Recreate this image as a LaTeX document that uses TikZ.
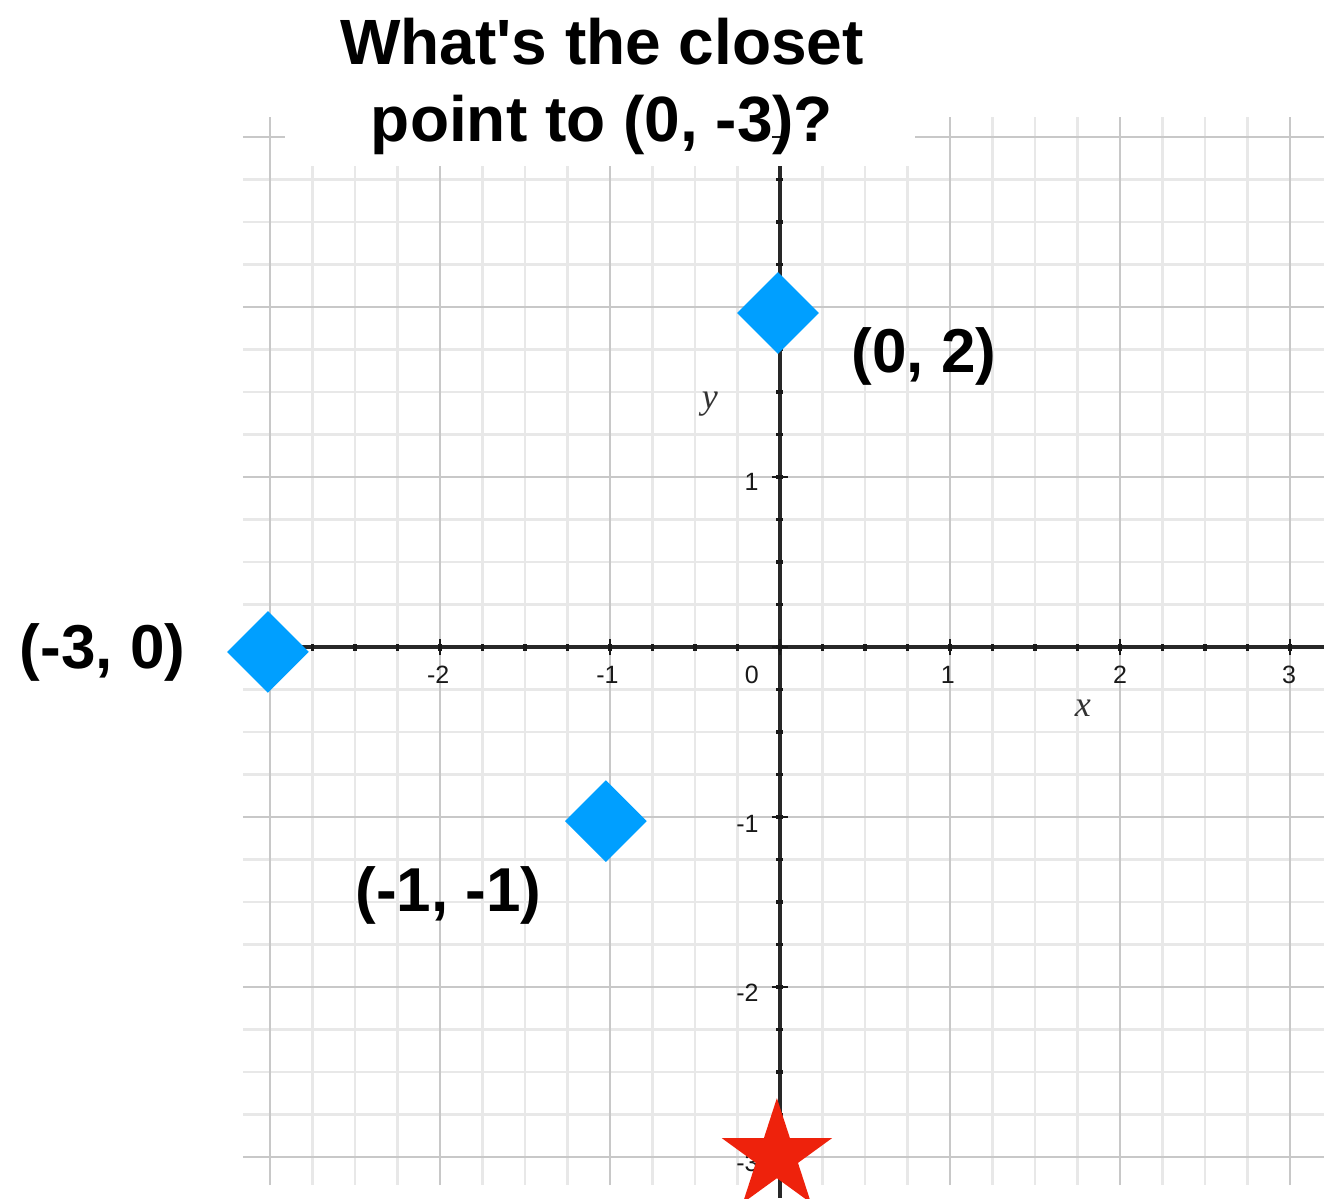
\documentclass[tikz,border=0pt]{standalone}
\usepackage{fontspec}
\setmainfont{Liberation Sans}[Ligatures=TeXOff]
\newfontfamily\axisserif{Liberation Serif}
\usetikzlibrary{shapes.geometric}
\definecolor{gridminor}{RGB}{232,232,232}
\definecolor{gridmajor}{RGB}{200,200,200}
\definecolor{axiscol}{RGB}{40,40,40}
\definecolor{ptblue}{RGB}{0,159,255}
\definecolor{starred}{RGB}{238,34,12}
\tikzset{
  minorgrid/.style={draw=gridminor, line width=1.2pt},
  majorgrid/.style={draw=gridmajor, line width=1.4pt},
  axisline/.style={draw=axiscol, line width=2pt},
  minortick/.style={draw=black!90, line width=1.6pt},
  majortick/.style={draw=black!90, line width=1.2pt},
  ticklabel/.style={font=\fontsize{12.5}{14}\selectfont, text=black!90, inner sep=0pt},
  axislabel/.style={font=\axisserif\itshape\fontsize{18}{20}\selectfont, text=black!80, inner sep=0pt},
  ptlabel/.style={font=\bfseries\fontsize{31}{36}\selectfont, inner sep=0pt},
  titlestyle/.style={font=\bfseries\fontsize{32}{38}\selectfont, inner sep=0pt, anchor=base},
  ptmark/.style={diamond, fill=ptblue, minimum width=41pt, minimum height=41pt, inner sep=0pt},
  targetmark/.style={star, star points=5, star point ratio=2.618, minimum size=58pt, fill=starred, inner sep=0pt}
}
\begin{document}
\begin{tikzpicture}[x=85pt,y=85pt]
\useasboundingbox (-4.588,-3.241) rectangle (3.2,3.806);
% grid
\foreach \i in {-12,...,12} {
  \draw[minorgrid] (\i/4,-3.165) -- (\i/4,3.118);
  \draw[minorgrid] (-3.159,\i/4) -- (3.2,\i/4);
}
\foreach \i in {-3,...,3} {
  \draw[majorgrid] (\i,-3.165) -- (\i,3.118);
  \draw[majorgrid] (-3.159,\i) -- (3.2,\i);
}
% white area behind the title
\fill[white] (-2.912,2.829) rectangle (0.794,3.9);
% axes
\draw[axisline] (-3.159,0) -- (3.2,0);
\draw[axisline] (0,2.829) -- (0,-3.241);
% ticks
\foreach \i in {-12,...,12} {
  \draw[minortick] (\i/4,-0.0206) -- (\i/4,0.0206);
}
\foreach \i in {-12,...,11} {
  \draw[minortick] (-0.0206,\i/4) -- (0.0206,\i/4);
}
\foreach \i in {-3,...,3} {
  \draw[majortick] (\i,-0.047) -- (\i,0.047);
  \draw[majortick] (-0.047,\i) -- (0.047,\i);
}
% tick labels
\node[ticklabel] (xlm2) at (-2.01,-0.165) {-2};
\node[ticklabel] (xlm1) at (-1.015,-0.165) {-1};
\node[ticklabel] (xl0) at (-0.165,-0.165) {0};
\node[ticklabel] (xl1) at (0.988,-0.165) {1};
\node[ticklabel] (xl2) at (2.0,-0.165) {2};
\node[ticklabel] (xl3) at (2.994,-0.165) {3};
\node[ticklabel, anchor=east] (yl1) at (-0.124,0.97) {1};
\node[ticklabel, anchor=east] (ylm1) at (-0.124,-1.04) {-1};
\node[ticklabel, anchor=east] (ylm2) at (-0.124,-2.035) {-2};
\node[ticklabel, anchor=east] (ylm3) at (-0.124,-3.035) {-3};
% axis names
\node[axislabel] (xname) at (1.782,-0.359) {x};
\node[axislabel] (yname) at (-0.412,1.43) {y};
% points
\node[ptmark] (p02) at (-0.012,1.965) {};
\node[ptmark] (p30) at (-3.012,-0.029) {};
\node[ptmark] (p11) at (-1.024,-1.024) {};
\node[targetmark] (target) at (-0.018,-2.994) {};
% point labels
\node[ptlabel] (l02) at (0.847,1.712) {(0, 2)};
\node[ptlabel] (l30) at (-3.985,-0.03) {(-3, 0)};
\node[ptlabel] (l11) at (-1.95,-1.459) {(-1, -1)};
% title
\node[titlestyle] (t1) at (-1.047,3.424) {What's the closet};
\node[titlestyle] (t2) at (-1.047,2.976) {point to (0, -3)?};
\end{tikzpicture}
\end{document}
